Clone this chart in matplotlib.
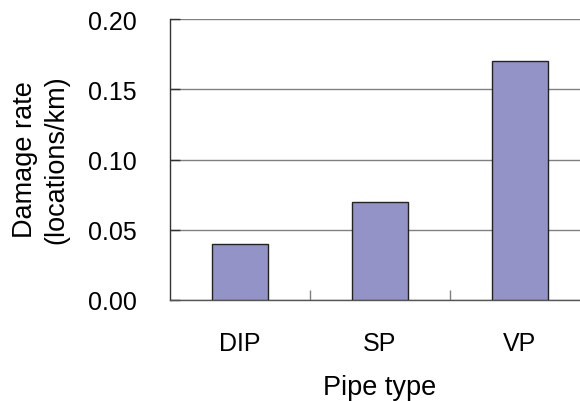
import matplotlib
matplotlib.use("Agg")
import matplotlib.pyplot as plt
import numpy as np

categories = ["DIP", "SP", "VP"]
damage_rate = [0.04, 0.07, 0.17]
yticks = [0.00, 0.05, 0.10, 0.15, 0.20]
ytick_labels = ["0.00", "0.05", "0.10", "0.15", "0.20"]

plt.rcParams['font.family'] = ['Liberation Sans', 'DejaVu Sans']

fig = plt.figure(figsize=(5.8, 4.02), dpi=100)
ax = fig.add_axes([170/580, 1-301/402, 420/580, 281/402])

x = np.arange(len(categories))
ax.bar(x, damage_rate, width=0.4, color='#9393C8', edgecolor='#222222',
       linewidth=1.0, zorder=3)

ax.set_xlim(-0.5, len(categories) - 0.5)
ax.set_ylim(0, 0.20)
ax.set_yticks(yticks)
ax.set_yticklabels(ytick_labels)
ax.yaxis.grid(True, color='#808080', linewidth=1.0, zorder=0)
ax.set_axisbelow(True)

ax.set_xticks(x)
ax.set_xticklabels(categories)
ax.set_xticks(x[:-1] + 0.5, minor=True)

ax.tick_params(axis='y', direction='in', length=7, width=1.0, color='#333333',
               labelsize=18, pad=24)
ax.tick_params(axis='x', which='major', length=0, labelsize=18, pad=22)
ax.tick_params(axis='x', which='minor', direction='in', length=7, width=1.0,
               color='#808080')

for s in ['top', 'right']:
    ax.spines[s].set_visible(False)
ax.spines['left'].set_color('#333333')
ax.spines['bottom'].set_color('#555555')
ax.spines['left'].set_linewidth(1.0)
ax.spines['bottom'].set_linewidth(1.0)

fig.text(380/580, 1-388/402, "Pipe type", ha='center', va='center', fontsize=19.5)
fig.text(41/580, 1-160/402, "Damage rate\n(locations/km)", ha='center', va='center',
         rotation=90, fontsize=19.5, linespacing=1.25)

fig.savefig("out.png", dpi=100)
